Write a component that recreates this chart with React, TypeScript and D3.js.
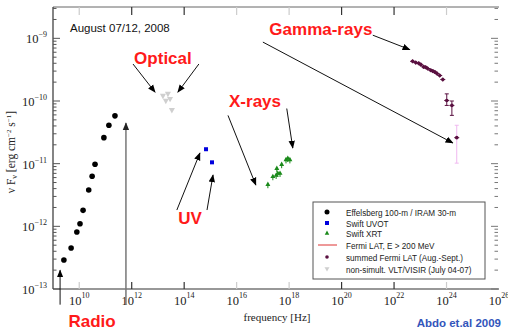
import React from 'react';
import * as d3 from 'd3';

// ---------- data ----------
const radioFreq = [2.6e9, 4.9e9, 8.1e9, 1.07e10, 1.4e10, 2.3e10, 3.1e10, 4.0e10, 8.7e10, 1.35e11, 2.3e11];
const radioFlux = [2.9e-13, 4.5e-13, 8.1e-13, 1.1e-12, 1.8e-12, 3.8e-12, 6.3e-12, 9.8e-12, 2.6e-11, 4.1e-11, 5.8e-11];

const uvotFreq = [6.8e14, 1.15e15];
const uvotFlux = [1.7e-11, 1.05e-11];

const optFreq = [1.55e13, 2.0e13, 2.4e13, 2.9e13, 3.4e13];
const optFlux = [1.2e-10, 1.0e-10, 1.29e-10, 1.07e-10, 7.1e-11];

const xrtFreq = [1.55e17, 2.4e17, 3.2e17, 3.4e17, 3.7e17, 4.5e17, 5.2e17, 7.6e17, 8.9e17, 1.07e18];
const xrtFlux = [4.7e-12, 6.3e-12, 6.6e-12, 8.5e-12, 7.1e-12, 7.1e-12, 9.8e-12, 1.17e-11, 1.23e-11, 1.17e-11];

const lineFreq = [5.1e22, 6.7e22, 8.7e22, 1.05e23, 1.35e23, 1.6e23, 1.9e23, 2.5e23, 3.0e23, 3.6e23, 4.3e23, 5.5e23, 7.2e23];
const lineFlux = [4.3e-10, 4.1e-10, 4.0e-10, 3.8e-10, 3.5e-10, 3.45e-10, 3.3e-10, 3.1e-10, 3.0e-10, 2.9e-10, 2.75e-10, 2.55e-10, 2.2e-10];

const gamFreq = [1.02e24, 1.6e24, 2.45e24];
const gamFlux = [1.02e-10, 8.5e-11, 2.6e-11];
const gamLo = [8.5e-11, 5.9e-11, 1.02e-11];
const gamHi = [1.3e-10, 1.0e-10, 4.1e-11];

const xTickExp = [10, 12, 14, 16, 18, 20, 22, 24, 26];
const yTickExp = [-13, -12, -11, -10, -9];

const legendLabels = [
  'Effelsberg 100-m / IRAM 30-m',
  'Swift UVOT',
  'Swift XRT',
  'Fermi LAT, E > 200 MeV',
  'summed Fermi LAT (Aug.-Sept.)',
  'non-simult. VLT/VISIR (July 04-07)',
];

// annotations in log10 data coordinates
const arrowX1 = [9.27, 11.78, 12.05, 14.56, 13.72, 14.87, 15.67, 17.91, 21.19, 17.0];
const arrowY1 = [-13.25, -13.25, -9.41, -9.41, -11.74, -11.74, -10.23, -10.12, -8.95, -9.06];
const arrowX2 = [9.27, 11.78, 12.89, 13.76, 14.60, 15.10, 16.73, 18.14, 22.60, 24.24];
const arrowY2 = [-12.70, -10.35, -9.86, -9.86, -10.83, -11.18, -11.34, -10.75, -9.18, -10.67];
const arrowGrey = [false, true, false, false, false, false, false, false, false, false];

const labelText = ['Optical', 'X-rays', 'Gamma-rays', 'UV', 'Radio'];
const labelX = [13.19, 16.70, 19.21, 14.22, 10.49];
const labelY = [-9.41, -10.10, -8.94, -11.96, -13.61];

// ---------- scales ----------
const W = 508, H = 330;
const x = d3.scaleLog().domain([1e9, 1e26]).range([53, 499]);
const y = d3.scaleLog().domain([1e-13, Math.pow(10, -8.5)]).range([289, 7]);
const [x0, x1] = x.range();
const [yb, yt] = y.range();

const serif = "'Liberation Serif', 'DejaVu Serif', serif";
const sans = "'Liberation Sans', Arial, sans-serif";

const darkTick = new Set([12, 14, 20, 22]);

function triUp(cx: number, cy: number, s: number) {
  return `M${cx},${cy - s} L${cx + s * 0.95},${cy + s * 0.7} L${cx - s * 0.95},${cy + s * 0.7} Z`;
}
function triDown(cx: number, cy: number, s: number) {
  return `M${cx},${cy + s} L${cx + s * 0.95},${cy - s * 0.7} L${cx - s * 0.95},${cy - s * 0.7} Z`;
}

export default function App() {
  const minor: number[] = [];
  for (let e = -13; e <= -9; e++) {
    for (let k = 1; k <= 9; k++) {
      const v = k * Math.pow(10, e);
      if (v >= 1e-13 && v <= Math.pow(10, -8.5)) minor.push(v);
    }
  }
  const lgX = 327, lgTextX = 346;
  const lgY = [212, 223, 233, 245, 257, 269];

  return (
    <svg width={W} height={H} style={{ position: 'absolute', left: 0, top: 0, background: '#fff' }}>
      <defs>
        <marker id="ah" viewBox="0 0 10 10" refX="9" refY="5" markerWidth="8" markerHeight="8" orient="auto" markerUnits="userSpaceOnUse">
          <path d="M0,1 L10,5 L0,9 Z" fill="#000" />
        </marker>
        <marker id="ahg" viewBox="0 0 10 10" refX="9" refY="5" markerWidth="8" markerHeight="8" orient="auto" markerUnits="userSpaceOnUse">
          <path d="M0,1 L10,5 L0,9 Z" fill="#222" />
        </marker>
      </defs>

      {/* frame */}
      <line x1={x0} y1={yt} x2={x1} y2={yt} stroke="#666" strokeWidth={1} />
      <line x1={x0} y1={yt} x2={x0} y2={yb} stroke="#333" strokeWidth={1.2} />
      <line x1={x0} y1={yb} x2={x1} y2={yb} stroke="#333" strokeWidth={1.2} />

      {/* y ticks */}
      {minor.map((v, i) => {
        const major = Math.abs(Math.log10(v) - Math.round(Math.log10(v))) < 1e-9;
        const len = major ? 7 : 3.5;
        return (
          <g key={'yt' + i}>
            <line x1={x0} x2={x0 + len} y1={y(v)} y2={y(v)} stroke="#555" strokeWidth={1} />
            <line x1={x1 - 1} x2={x1 - 1 - len} y1={y(v)} y2={y(v)} stroke="#777" strokeWidth={1} />
          </g>
        );
      })}
      {yTickExp.map((e) => (
        <text key={'yl' + e} x={47} y={y(Math.pow(10, e)) + 5} textAnchor="end" fontFamily={serif} fontSize={12.5} fill="#222">
          10<tspan dy={-6} fontSize={8}>{String(e).replace('-', '\u2212')}</tspan>
        </text>
      ))}

      {/* x ticks */}
      {xTickExp.map((e) => {
        const px = x(Math.pow(10, e));
        const c = darkTick.has(e) ? '#333' : '#ccc';
        return (
          <g key={'xt' + e}>
            {e < 26 && <line x1={px} x2={px} y1={yb} y2={yb - 7} stroke={c} strokeWidth={1.2} />}
            {e < 26 && <line x1={px} x2={px} y1={yt} y2={yt + 8} stroke={c} strokeWidth={1.2} />}
            <text x={px} y={305} textAnchor="middle" fontFamily={serif} fontSize={12.5} fill="#222">
              10<tspan dy={-7} fontSize={8}>{e}</tspan>
            </text>
          </g>
        );
      })}

      {/* axis titles */}
      <text x={277} y={321} textAnchor="middle" fontFamily={serif} fontSize={11} fill="#222">frequency [Hz]</text>
      <text transform={`translate(15,152) rotate(-90)`} textAnchor="middle" fontFamily={serif} fontSize={11.5} fill="#222">
        {'\u03bd F'}<tspan dy={2} fontSize={8}>{'\u03bd'}</tspan><tspan dy={-2}>{' [erg cm'}</tspan>
        <tspan dy={-4} fontSize={7}>{'\u22122'}</tspan><tspan dy={4}>{' s'}</tspan>
        <tspan dy={-4} fontSize={7}>{'\u22121'}</tspan><tspan dy={4}>{']'}</tspan>
      </text>

      <text x={70} y={32} fontFamily={sans} fontSize={11.5} fill="#111">August 07/12, 2008</text>

      {/* annotation arrows */}
      {arrowX1.map((lx, i) => (
        <line key={'ar' + i}
          x1={x(Math.pow(10, lx))} y1={y(Math.pow(10, arrowY1[i]))}
          x2={x(Math.pow(10, arrowX2[i]))} y2={y(Math.pow(10, arrowY2[i]))}
          stroke={arrowGrey[i] ? '#777' : '#111'} strokeWidth={arrowGrey[i] ? 1.5 : 1}
          markerEnd={arrowGrey[i] ? 'url(#ahg)' : 'url(#ah)'} />
      ))}

      {/* optical */}
      {optFreq.map((f, i) => (
        <path key={'op' + i} d={triDown(x(f), y(optFlux[i]), 3.2)} fill="#cfcfcf" />
      ))}

      {/* radio */}
      {radioFreq.map((f, i) => (
        <circle key={'ra' + i} cx={x(f)} cy={y(radioFlux[i])} r={2.8} fill="#000" />
      ))}

      {/* UVOT */}
      {uvotFreq.map((f, i) => (
        <rect key={'uv' + i} x={x(f) - 2} y={y(uvotFlux[i]) - 2} width={4} height={4} fill="#0000dd" />
      ))}

      {/* XRT */}
      {xrtFreq.map((f, i) => (
        <g key={'xr' + i}>
          <line x1={x(f)} x2={x(f)} y1={y(xrtFlux[i]) - 1} y2={y(xrtFlux[i]) + 4} stroke="#1a8a1a" strokeWidth={1} />
          <path d={triUp(x(f), y(xrtFlux[i]), 2.6)} fill="#1a8a1a" />
        </g>
      ))}

      {/* Fermi LAT summed */}
      {lineFreq.map((f, i) => (
        <g key={'gl' + i}>
          <line x1={x(f) - 2.5} x2={x(f) + 2.5} y1={y(lineFlux[i])} y2={y(lineFlux[i])} stroke="#5a1040" strokeWidth={1} />
          <line x1={x(f)} x2={x(f)} y1={y(lineFlux[i]) - 2} y2={y(lineFlux[i]) + 2} stroke="#5a1040" strokeWidth={1} />
          <circle cx={x(f)} cy={y(lineFlux[i])} r={1.8} fill="#5a1040" />
        </g>
      ))}
      {gamFreq.map((f, i) => {
        const c = i === 2 ? '#f0b8f0' : '#5a1040';
        const px = x(f);
        return (
          <g key={'gp' + i}>
            <line x1={px} x2={px} y1={y(gamLo[i])} y2={y(gamHi[i])} stroke={c} strokeWidth={1} />
            <line x1={px - 2} x2={px + 2} y1={y(gamLo[i])} y2={y(gamLo[i])} stroke={c} strokeWidth={1} />
            <line x1={px - 2} x2={px + 2} y1={y(gamHi[i])} y2={y(gamHi[i])} stroke={c} strokeWidth={1} />
            <line x1={px - 2.5} x2={px + 2.5} y1={y(gamFlux[i])} y2={y(gamFlux[i])} stroke="#5a1040" strokeWidth={1} />
            <circle cx={px} cy={y(gamFlux[i])} r={1.8} fill="#5a1040" />
          </g>
        );
      })}

      {/* red labels */}
      {labelText.map((t, i) => (
        <text key={'lb' + i} x={x(Math.pow(10, labelX[i]))} y={y(Math.pow(10, labelY[i]))} textAnchor="middle"
          fontFamily={sans} fontWeight="bold" fontSize={17} fill="#ff1a1a">{t}</text>
      ))}

      {/* legend */}
      <rect x={313} y={202} width={172} height={77} fill="#fff" stroke="#555" strokeWidth={1} />
      <circle cx={lgX} cy={lgY[0]} r={2.5} fill="#000" />
      <rect x={lgX - 2} y={lgY[1] - 2} width={4} height={4} fill="#0000dd" />
      <path d={triUp(lgX, lgY[2], 2.4)} fill="#1a8a1a" />
      <line x1={318} x2={337} y1={lgY[3]} y2={lgY[3]} stroke="#d33" strokeWidth={1} />
      <circle cx={lgX} cy={lgY[4]} r={1.8} fill="#5a1040" />
      <path d={triDown(lgX, lgY[5], 2.6)} fill="#cfcfcf" />
      {legendLabels.map((t, i) => (
        <text key={'lg' + i} transform={`translate(${lgTextX},${lgY[i] + 3.5}) scale(0.86,1)`}
          fontFamily={sans} fontSize={9.5} fill="#222">{t}</text>
      ))}

      <text x={501} y={327} textAnchor="end" fontFamily={sans} fontSize={11.5} fontWeight="bold" fill="#3355bb">Abdo et.al 2009</text>
    </svg>
  );
}
